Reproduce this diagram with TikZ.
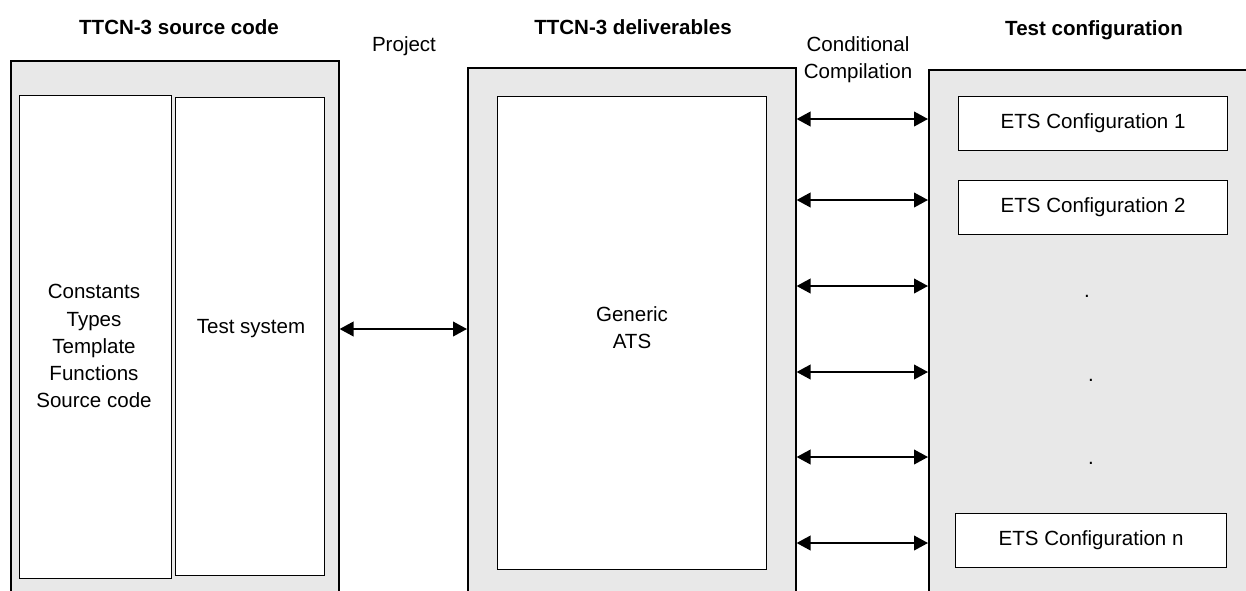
\documentclass[tikz,border=0pt]{standalone}
\usepackage{fontspec}
\setmainfont{Liberation Sans}
\usetikzlibrary{arrows.meta}

\tikzset{
  outerbox/.style={draw, line width=1.2pt, fill={rgb,255:red,232;green,232;blue,232}, anchor=north west, inner sep=0pt},
  innerbox/.style={draw, line width=0.9pt, fill=white, anchor=north west, align=center, inner sep=0pt},
  lbl/.style={inner sep=0.75pt, align=center, font=\fontsize{15.4}{20.3}\selectfont},
  headlbl/.style={lbl, font=\fontsize{15.4}{20.3}\selectfont\bfseries},
  linkarrow/.style={line width=1.4pt, {Triangle[length=10.5pt,width=11pt]}-{Triangle[length=10.5pt,width=11pt]}}
}

\begin{document}
\begin{tikzpicture}[x=0.75pt,y=0.75pt,yscale=-1,xscale=1]
\useasboundingbox (0,0) rectangle (1246,590);
\clip (0,0) rectangle (1246,590);
\fill[white] (0,0) rectangle (1246,590);

% Outer boxes
\node[outerbox, minimum width=246pt, minimum height=405pt] (src) at (10,60) {};
\node[outerbox, minimum width=246pt, minimum height=400pt] (deliv) at (467,67) {};
\node[outerbox, minimum width=255pt, minimum height=400pt] (testcfg) at (928,69) {};

% Inner boxes
\node[innerbox, minimum width=114pt, minimum height=362.25pt] (consts) at (19,95) {};
\node[innerbox, minimum width=111.75pt, minimum height=358.5pt] (tsys) at (175,97) {};
\node[innerbox, minimum width=201.75pt, minimum height=354.75pt] (ats) at (497,96) {};
\node[innerbox, lbl, anchor=north west, minimum width=201.75pt, minimum height=40.5pt] (ets1) at (958,96) {ETS Configuration 1};
\node[innerbox, lbl, anchor=north west, minimum width=201.75pt, minimum height=40.5pt] (ets2) at (958,180) {ETS Configuration 2};
\node[innerbox, lbl, anchor=north west, minimum width=203.25pt, minimum height=40.5pt] (etsn) at (955,513) {ETS Configuration n};

% Text Node
\node[lbl] (constxt) at (94,346) {Constants\\Types\\Template\\Functions\\Source code};
\node[lbl] (tsystxt) at (251,329) {Test system};
\node[lbl] (atstxt) at (632,328) {Generic\\ATS};
\node[headlbl] (srchead) at (179,27) {TTCN-3 source code};
\node[headlbl] (delivhead) at (633,27) {TTCN-3 deliverables};
\node[headlbl] (cfghead) at (1094,30) {Test configuration};
\node[lbl] (project) at (404,46) {Project};
\node[lbl] (condcomp) at (858,60) {Conditional\\Compilation};

% Dots
\node[lbl, anchor=base] (dotA) at (1087,297) {.};
\node[lbl, anchor=base] (dotB) at (1091,381) {.};
\node[lbl, anchor=base] (dotC) at (1091,464) {.};

%Straight Lines
\coordinate (projlvl) at (0,329);
\draw[linkarrow] (src.east |- projlvl) -- (deliv.west |- projlvl);
\foreach \y in {119,200,286,372,457,543}{
  \draw[linkarrow] (deliv.east |- 0,\y) -- (testcfg.west |- 0,\y);
}

\end{tikzpicture}
\end{document}
